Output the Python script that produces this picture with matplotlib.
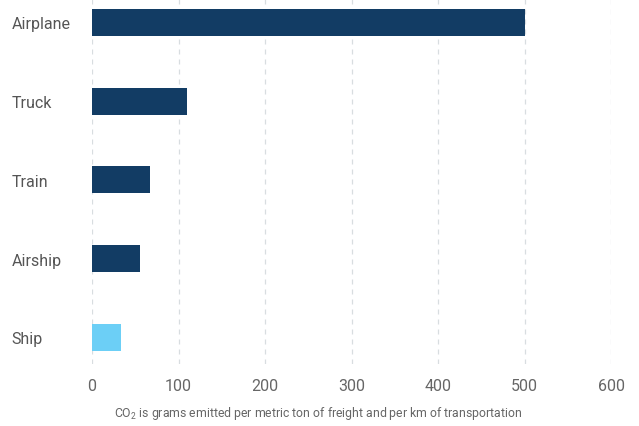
import matplotlib.pyplot as plt
import numpy as np

plt.rcParams['font.family'] = ['Roboto', 'DejaVu Sans']
plt.rcParams['mathtext.fontset'] = 'custom'
plt.rcParams['mathtext.rm'] = 'Roboto'

categories = ["Airplane", "Truck", "Train", "Airship", "Ship"]
values = [500, 110, 67, 56, 34]
colors = ["#123c64", "#123c64", "#123c64", "#123c64", "#6ccff6"]
xticks = [0, 100, 200, 300, 400, 500, 600]

fig = plt.figure(figsize=(6.39, 4.27), dpi=100)
ax = fig.add_axes([92/639, 62/427, (611-92)/639, 365/427])

y = np.arange(len(categories))
ax.barh(y, values, height=0.343, color=colors, zorder=3)

ax.set_xlim(0, 600)
ax.set_ylim(4.337, -0.298)
ax.set_xticks(xticks)
ax.set_xticklabels([str(t) for t in xticks], fontsize=11.5, color="#666666")
ax.set_yticks(y)
ax.set_yticklabels(categories, fontsize=11.5, color="#555555", ha="left")
ax.tick_params(axis="y", length=0, pad=58)
ax.tick_params(axis="x", length=0, pad=10)

ax.grid(axis="x", color="#d8dde0", linestyle=(0, (4, 4)), linewidth=0.9, zorder=0)
ax.grid(axis="y", visible=False)
for s in ax.spines.values():
    s.set_visible(False)

fig.text(318/639, 1 - 414/427,
         "CO$_\\mathrm{2}$ is grams emitted per metric ton of freight and per km of transportation",
         ha="center", va="center", fontsize=8.8, color="#666666")

fig.savefig("out.png", dpi=100)
